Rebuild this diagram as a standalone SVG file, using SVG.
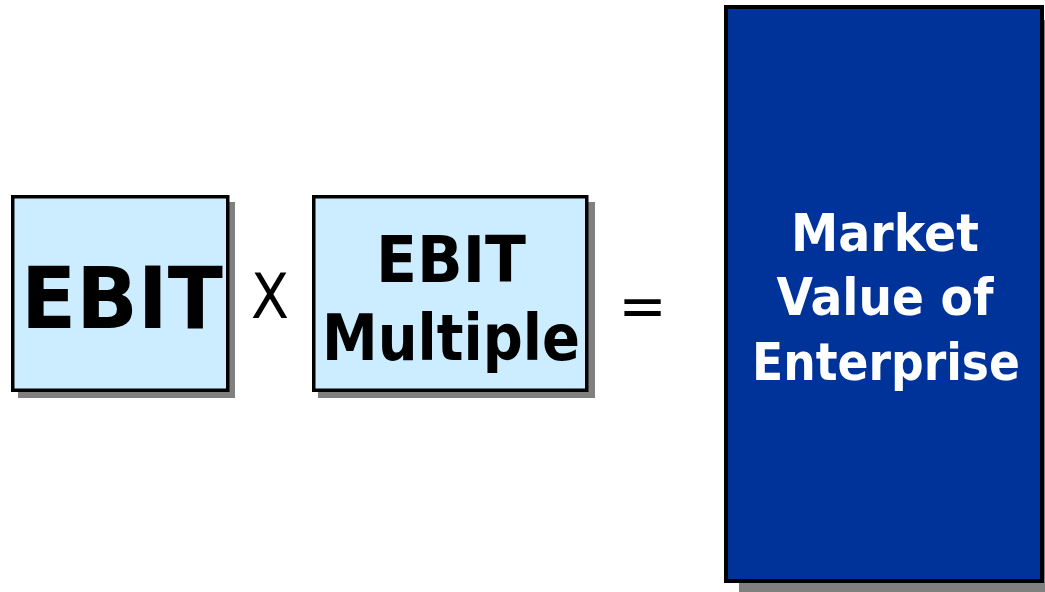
<svg xmlns="http://www.w3.org/2000/svg" width="1045" height="592" viewBox="0 0 1045 592">
  <style>
    .shadow { fill: #808080; }
    .light { fill: #CCECFF; stroke: #000000; stroke-width: 3.5; }
    .dark { fill: #003399; stroke: #000000; stroke-width: 4; }
    .lbl { font-family: "DejaVu Sans", Verdana, sans-serif; font-weight: bold; text-anchor: middle; }
    .op { font-family: "DejaVu Sans", Verdana, sans-serif; text-anchor: middle; fill: #000000; }
  </style>
  <rect width="1045" height="592" fill="#FFFFFF"/>

  <!-- EBIT -->
  <g id="ebit">
    <rect class="shadow" x="18" y="202" width="217" height="196"/>
    <rect class="light" x="12.75" y="196.75" width="215" height="193.5"/>
    <text class="lbl" x="122" y="328" font-size="86" textLength="202" lengthAdjust="spacingAndGlyphs" fill="#000000">EBIT</text>
  </g>

  <!-- multiplication sign -->
  <g id="times">
    <text class="op" x="270" y="318" font-size="62" textLength="38" lengthAdjust="spacingAndGlyphs">X</text>
  </g>

  <!-- EBIT Multiple -->
  <g id="ebit-multiple">
    <rect class="shadow" x="318" y="202" width="277" height="196"/>
    <rect class="light" x="313.75" y="196.75" width="273" height="193.5"/>
    <text class="lbl" x="451" y="282" font-size="64" textLength="150" lengthAdjust="spacingAndGlyphs" fill="#000000">EBIT</text>
    <text class="lbl" x="451" y="360" font-size="64" textLength="258" lengthAdjust="spacingAndGlyphs" fill="#000000">Multiple</text>
  </g>

  <!-- equals sign -->
  <g id="equals">
    <text class="op" x="642.5" y="326" font-size="58">=</text>
  </g>

  <!-- Market Value of Enterprise -->
  <g id="market-value">
    <rect class="shadow" x="739" y="20" width="320" height="580"/>
    <rect class="dark" x="726" y="7" width="316" height="574"/>
    <text class="lbl" x="885" y="251" font-size="52" textLength="188" lengthAdjust="spacingAndGlyphs" fill="#FFFFFF">Market</text>
    <text class="lbl" x="885" y="315" font-size="52" textLength="217" lengthAdjust="spacingAndGlyphs" fill="#FFFFFF">Value of</text>
    <text class="lbl" x="886" y="380" font-size="52" textLength="268" lengthAdjust="spacingAndGlyphs" fill="#FFFFFF">Enterprise</text>
  </g>

  <g id="connectors"/>
</svg>
